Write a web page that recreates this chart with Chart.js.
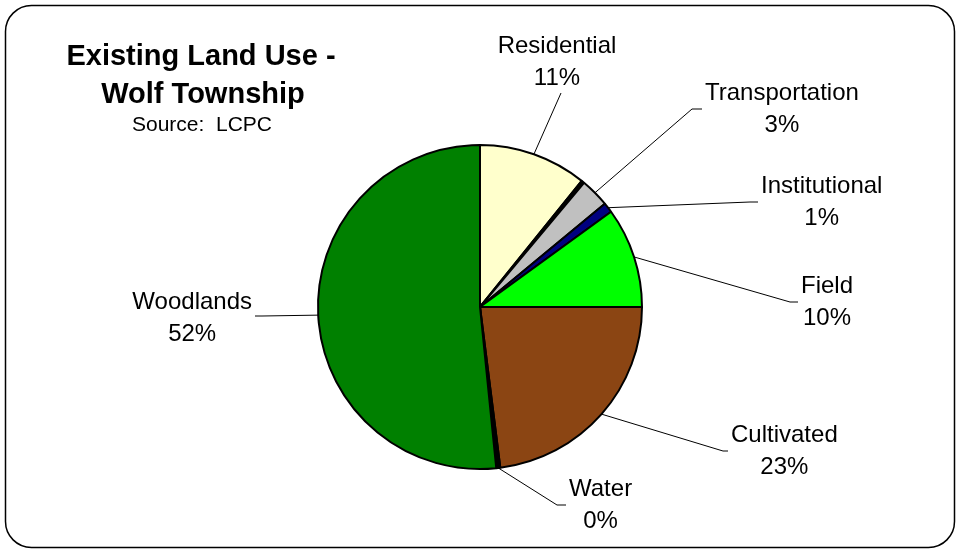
<!DOCTYPE html>
<html>
<head>
<meta charset="utf-8">
<script src="https://cdn.jsdelivr.net/npm/chart.js@4/dist/chart.umd.min.js"></script>
<style>
  body { margin: 0; background: #fff; }
  #wrap { width: 956px; height: 550px; position: relative; }
</style>
</head>
<body>
<div id="wrap"><canvas id="landChart" width="956" height="550"></canvas></div>
<script>
// Categorias e valores (percentual)
const categories = ['Residential', '', 'Transportation', 'Institutional', 'Field', 'Cultivated', 'Water', 'Woodlands'];
const shares = [10.8, 0.3, 2.9, 1.0, 10.0, 23.0, 0.4, 51.6];
const sliceColors = ['#FFFFCC', '#000000', '#C0C0C0', '#000080', '#00FF00', '#8B4513', '#000000', '#008000'];

// Layout dos rótulos: ponto do cotovelo da linha guia, relativo ao centro da pizza
const labelElbows = [
    { x: 81, y: -214, len: 0, side: 'top' },
    null,
    { x: 212, y: -198, len: 10, side: 'right' },
    { x: 270, y: -105, len: 8, side: 'right' },
    { x: 310, y: -5, len: 8, side: 'right' },
    { x: 243, y: 144, len: 5, side: 'right' },
    { x: 77, y: 198, len: 9, side: 'right' },
    { x: -218, y: 9, len: 7, side: 'left' }
];

const labelFont = '24px "Liberation Sans", Arial, sans-serif';

// Moldura arredondada e título
const framePlugin = {
    id: 'frame',
    beforeDraw(chart) {
        const ctx = chart.ctx;
        const x0 = 5.5, y0 = 5.5, x1 = 954.5, y1 = 547.5, r = 26;
        ctx.save();
        ctx.fillStyle = '#ffffff';
        ctx.fillRect(0, 0, chart.width, chart.height);
        ctx.beginPath();
        ctx.moveTo(x0 + r, y0);
        ctx.lineTo(x1 - r, y0);
        ctx.arcTo(x1, y0, x1, y0 + r, r);
        ctx.lineTo(x1, y1 - r);
        ctx.arcTo(x1, y1, x1 - r, y1, r);
        ctx.lineTo(x0 + r, y1);
        ctx.arcTo(x0, y1, x0, y1 - r, r);
        ctx.lineTo(x0, y0 + r);
        ctx.arcTo(x0, y0, x0 + r, y0, r);
        ctx.closePath();
        ctx.strokeStyle = '#000';
        ctx.lineWidth = 1.5;
        ctx.stroke();

        ctx.fillStyle = '#000';
        ctx.textAlign = 'center';
        ctx.textBaseline = 'middle';
        ctx.font = 'bold 29px "Liberation Sans", Arial, sans-serif';
        ctx.fillText('Existing Land Use -', 201, 57);
        ctx.fillText('Wolf Township', 203, 95);
        ctx.font = '21px "Liberation Sans", Arial, sans-serif';
        ctx.fillText('Source:  LCPC', 202, 125);
        ctx.restore();
    }
};

// Rótulos com linhas guia
const leaderPlugin = {
    id: 'leaders',
    afterDatasetsDraw(chart) {
        const ctx = chart.ctx;
        const meta = chart.getDatasetMeta(0);
        const total = shares.reduce((a, b) => a + b, 0);
        ctx.save();
        ctx.font = labelFont;
        ctx.fillStyle = '#000';
        ctx.strokeStyle = '#000';
        ctx.lineWidth = 1;
        ctx.textBaseline = 'middle';
        ctx.textAlign = 'center';
        meta.data.forEach((arc, i) => {
            const el = labelElbows[i];
            if (!categories[i] || !el) return;
            const p = arc.getProps(['x', 'y', 'startAngle', 'endAngle', 'outerRadius'], true);
            const mid = (p.startAngle + p.endAngle) / 2;
            const sx = p.x + Math.cos(mid) * p.outerRadius;
            const sy = p.y + Math.sin(mid) * p.outerRadius;
            const ex = p.x + el.x;
            const ey = p.y + el.y;
            const dir = el.side === 'left' ? -1 : 1;
            const tx = ex + dir * el.len;
            ctx.beginPath();
            ctx.moveTo(sx, sy);
            ctx.lineTo(ex, ey);
            if (el.len) ctx.lineTo(tx, ey);
            ctx.stroke();

            const pct = Math.round(shares[i] / total * 100) + '%';
            const w = Math.max(ctx.measureText(categories[i]).width, ctx.measureText(pct).width);
            let cx, cy;
            if (el.side === 'top') {
                cx = ex - 4;
                cy = ey - 31;
            } else if (el.side === 'left') {
                cx = tx - 3 - w / 2;
                cy = ey + 2;
            } else {
                cx = tx + 3 + w / 2;
                cy = ey;
            }
            ctx.fillText(categories[i], cx, cy - 16);
            ctx.fillText(pct, cx, cy + 16);
        });
        ctx.restore();
    }
};

const ctx = document.getElementById('landChart').getContext('2d');
new Chart(ctx, {
    type: 'pie',
    data: {
        labels: categories,
        datasets: [{
            data: shares,
            backgroundColor: sliceColors,
            borderColor: '#000000',
            borderWidth: 2
        }]
    },
    options: {
        responsive: false,
        animation: false,
        radius: 162,
        layout: { padding: { left: 4, right: 0, top: 64, bottom: 0 } },
        plugins: {
            legend: { display: false },
            tooltip: { enabled: false },
            title: { display: false }
        }
    },
    plugins: [framePlugin, leaderPlugin]
});
</script>
</body>
</html>
